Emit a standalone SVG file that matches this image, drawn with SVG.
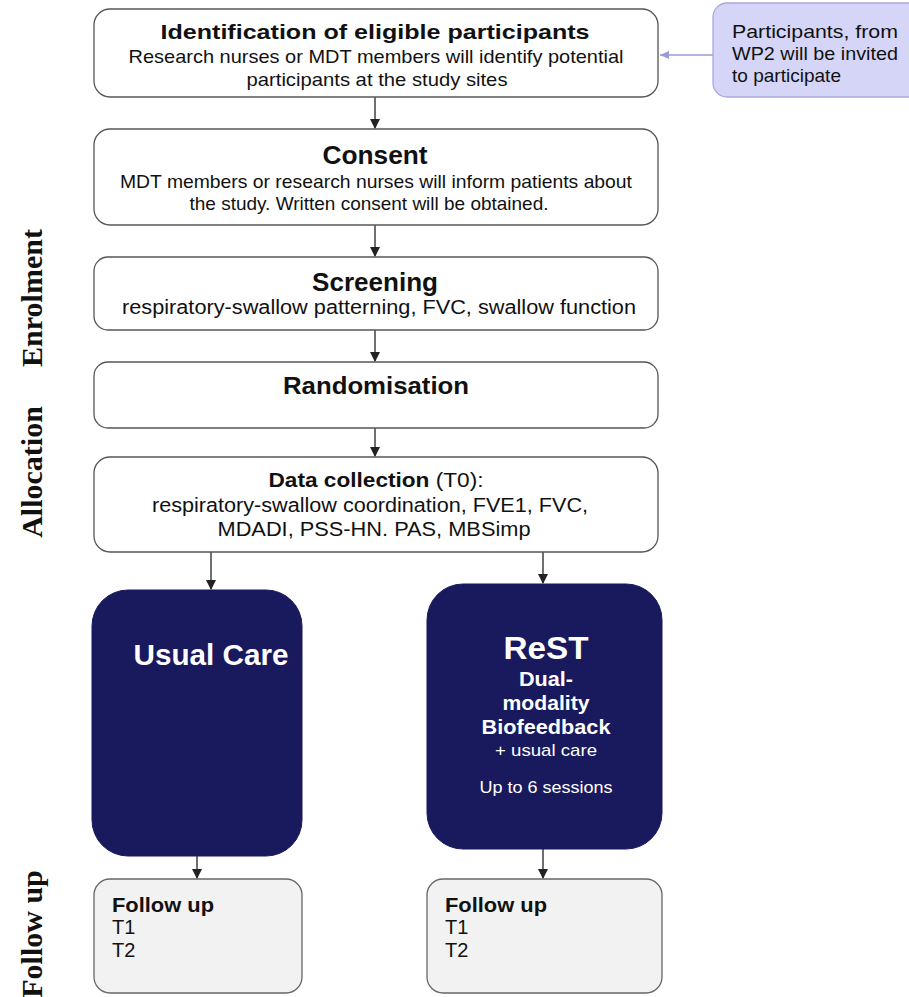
<svg xmlns="http://www.w3.org/2000/svg" width="909" height="997" viewBox="0 0 909 997">
<defs>
<style>
.box{fill:#fff;stroke:#555;stroke-width:1.3}
.fu{fill:#f2f2f2;stroke:#666;stroke-width:1.3}
.navy{fill:#19195e;stroke:#19195e}
.side{fill:#d5d5f7;stroke:#a8a8e0;stroke-width:1.3}
text{font-family:"Liberation Sans",Arial,sans-serif;fill:#111}
.m{text-anchor:middle}
.b{font-weight:bold}
.w{fill:#fff}
.lab{font-family:"Liberation Serif","Times New Roman",serif;font-weight:bold;font-size:30px;fill:#111;text-anchor:middle}
.c{stroke:#222;stroke-width:1.3;fill:none}
</style>
<marker id="ah" markerWidth="10" markerHeight="10" refX="9" refY="5" orient="auto" markerUnits="userSpaceOnUse"><path d="M0,0 L10,5 L0,10 z" fill="#222"/></marker>
<marker id="ahp" markerWidth="10" markerHeight="10" refX="9" refY="5" orient="auto" markerUnits="userSpaceOnUse"><path d="M0,1 L9,5 L0,9 z" fill="#9a9ad8"/></marker>
</defs>
<g id="connectors">
<line class="c" x1="375" y1="97" x2="375" y2="128" marker-end="url(#ah)"/>
<line class="c" x1="375" y1="225" x2="375" y2="256" marker-end="url(#ah)"/>
<line class="c" x1="375" y1="330" x2="375" y2="361" marker-end="url(#ah)"/>
<line class="c" x1="375" y1="428" x2="375" y2="456" marker-end="url(#ah)"/>
<line class="c" x1="211" y1="552" x2="211" y2="589" marker-end="url(#ah)"/>
<line class="c" x1="543" y1="552" x2="543" y2="583" marker-end="url(#ah)"/>
<line class="c" x1="197" y1="856" x2="197" y2="878" marker-end="url(#ah)"/>
<line class="c" x1="543" y1="849" x2="543" y2="878" marker-end="url(#ah)"/>
<line x1="713" y1="55" x2="660" y2="55" stroke="#9a9ad8" stroke-width="1.3" marker-end="url(#ahp)"/>
</g>
<g id="label-enrolment"><text class="lab" transform="translate(42,298) rotate(-90)">Enrolment</text></g>
<g id="label-allocation"><text class="lab" transform="translate(42,472) rotate(-90)">Allocation</text></g>
<g id="label-followup"><text class="lab" transform="translate(42,934) rotate(-90)">Follow up</text></g>
<g id="identification">
<rect class="box" x="94" y="9" width="564" height="88" rx="16"/>
<text class="b m" x="375" y="39" font-size="20.5" textLength="429" lengthAdjust="spacingAndGlyphs">Identification of eligible participants</text>
<text class="m" x="376" y="63" font-size="19" textLength="495" lengthAdjust="spacingAndGlyphs">Research nurses or MDT members will identify potential</text>
<text class="m" x="377" y="86" font-size="19" textLength="261" lengthAdjust="spacingAndGlyphs">participants at the study sites</text>
</g>
<g id="side-note">
<rect class="side" x="713" y="3" width="210" height="94" rx="14"/>
<text x="732" y="38" font-size="19" textLength="166" lengthAdjust="spacingAndGlyphs">Participants, from</text>
<text x="732" y="60" font-size="19" textLength="166" lengthAdjust="spacingAndGlyphs">WP2 will be invited</text>
<text x="732" y="82" font-size="19" textLength="109" lengthAdjust="spacingAndGlyphs">to participate</text>
</g>
<g id="consent">
<rect class="box" x="94" y="129" width="564" height="96" rx="16"/>
<text class="b m" x="375" y="164" font-size="25" textLength="105" lengthAdjust="spacingAndGlyphs">Consent</text>
<text class="m" x="376" y="188" font-size="19" textLength="512" lengthAdjust="spacingAndGlyphs">MDT members or research nurses will inform patients about</text>
<text class="m" x="369" y="210" font-size="19" textLength="359" lengthAdjust="spacingAndGlyphs">the study. Written consent will be obtained.</text>
</g>
<g id="screening">
<rect class="box" x="94" y="257" width="564" height="73" rx="14"/>
<text class="b m" x="375" y="291" font-size="25" textLength="126" lengthAdjust="spacingAndGlyphs">Screening</text>
<text class="m" x="379" y="314" font-size="20" textLength="514" lengthAdjust="spacingAndGlyphs">respiratory-swallow patterning, FVC,  swallow function</text>
</g>
<g id="randomisation">
<rect class="box" x="94" y="362" width="564" height="66" rx="14"/>
<text class="b m" x="376" y="394" font-size="24" textLength="186" lengthAdjust="spacingAndGlyphs">Randomisation</text>
</g>
<g id="data-collection">
<rect class="box" x="94" y="457" width="564" height="95" rx="16"/>
<text class="m" x="376" y="487" font-size="20" textLength="215" lengthAdjust="spacingAndGlyphs"><tspan class="b">Data collection</tspan> (T0):</text>
<text class="m" x="370" y="512" font-size="20" textLength="436" lengthAdjust="spacingAndGlyphs">respiratory-swallow coordination,   FVE1, FVC,</text>
<text class="m" x="374" y="536" font-size="20" textLength="313" lengthAdjust="spacingAndGlyphs">MDADI, PSS-HN. PAS, MBSimp</text>
</g>
<g id="usual-care">
<rect class="navy" x="92" y="590" width="210" height="266" rx="36"/>
<text class="b w m" x="211" y="665" font-size="29" textLength="155" lengthAdjust="spacingAndGlyphs">Usual Care</text>
</g>
<g id="rest">
<rect class="navy" x="427" y="584" width="235" height="265" rx="36"/>
<text class="b w m" x="546" y="659" font-size="32" textLength="85" lengthAdjust="spacingAndGlyphs">ReST</text>
<text class="b w m" x="546" y="686" font-size="20" textLength="54" lengthAdjust="spacingAndGlyphs">Dual-</text>
<text class="b w m" x="546" y="710" font-size="20" textLength="87" lengthAdjust="spacingAndGlyphs">modality</text>
<text class="b w m" x="546" y="734" font-size="20" textLength="129" lengthAdjust="spacingAndGlyphs">Biofeedback</text>
<text class="w m" x="546" y="756" font-size="17" textLength="102" lengthAdjust="spacingAndGlyphs">+ usual care</text>
<text class="w m" x="546" y="793" font-size="17" textLength="133" lengthAdjust="spacingAndGlyphs">Up to 6 sessions</text>
</g>
<g id="followup-left">
<rect class="fu" x="94" y="879" width="208" height="114" rx="16"/>
<text class="b" x="112" y="912" font-size="21" textLength="102" lengthAdjust="spacingAndGlyphs">Follow up</text>
<text x="112" y="934" font-size="20">T1</text>
<text x="112" y="957" font-size="20">T2</text>
</g>
<g id="followup-right">
<rect class="fu" x="427" y="879" width="235" height="114" rx="16"/>
<text class="b" x="445" y="912" font-size="21" textLength="102" lengthAdjust="spacingAndGlyphs">Follow up</text>
<text x="445" y="934" font-size="20">T1</text>
<text x="445" y="957" font-size="20">T2</text>
</g>
</svg>
